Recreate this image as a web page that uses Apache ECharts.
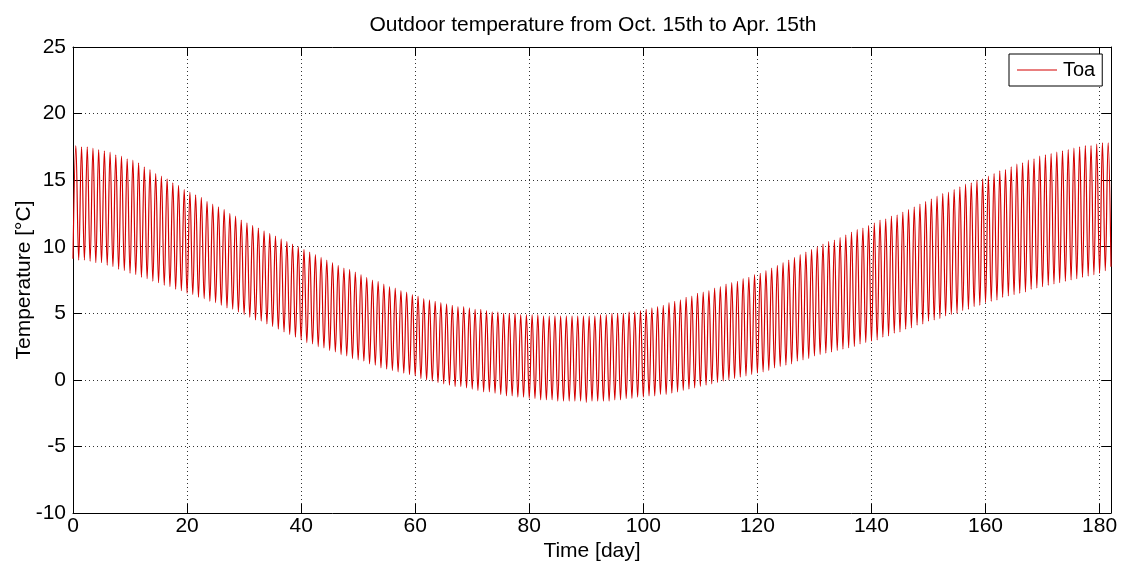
<!DOCTYPE html>
<html>
<head>
<meta charset="utf-8">
<script src="https://cdn.jsdelivr.net/npm/echarts@6/dist/echarts.min.js"></script>
<style>
html,body{margin:0;padding:0;background:#fff;}
#chart{width:1122px;height:565px;}
</style>
</head>
<body>
<div id="chart"></div>
<script>
// Daily peak temperatures (°C), day 0 .. 182
const dailyHigh = [
 17.6,17.5,17.5,17.4,17.3, 17.2,17.1,16.9,16.8,16.6,
 16.5,16.3,16.0,15.8,15.5, 15.3,15.1,14.8,14.6,14.3,
 14.1,13.9,13.7,13.4,13.2, 13.0,12.8,12.5,12.3,12.0,
 11.8,11.6,11.4,11.2,11.0, 10.8,10.6,10.4,10.2,10.0,
 9.8,9.6,9.4,9.2,9.0, 8.8,8.6,8.4,8.3,8.1,
 7.9,7.7,7.5,7.4,7.2, 7.0,6.9,6.7,6.6,6.4,
 6.3,6.1,6.0,5.9,5.8, 5.7,5.6,5.5,5.5,5.4,
 5.3,5.3,5.2,5.1,5.1, 5.0,5.0,5.0,4.9,4.9,
 4.9,4.9,4.8,4.8,4.8, 4.8,4.8,4.8,4.8,4.8,
 4.8,4.8,4.9,4.9,5.0, 5.0,5.0,5.1,5.1,5.2,
 5.3,5.4,5.5,5.6,5.8, 5.9,6.0,6.2,6.3,6.5,
 6.6,6.7,6.9,7.0,7.2, 7.3,7.4,7.6,7.7,7.9,
 8.0,8.2,8.4,8.6,8.8, 9.0,9.2,9.4,9.6,9.8,
 10.0,10.2,10.4,10.5,10.7, 10.9,11.1,11.3,11.4,11.6,
 11.8,12.0,12.1,12.3,12.4, 12.6,12.8,13.0,13.2,13.4,
 13.6,13.8,14.0,14.1,14.3, 14.5,14.7,14.8,15.0,15.1,
 15.3,15.5,15.7,15.8,16.0, 16.2,16.3,16.5,16.6,16.8,
 16.9,17.0,17.1,17.2,17.3, 17.4,17.5,17.6,17.6,17.7,
 17.8,17.8,17.9
];
// Daily minimum temperatures (°C), day 0 .. 182
const dailyLow = [
 9.1,9.0,9.0,8.9,8.8, 8.8,8.6,8.5,8.3,8.2,
 8.0,7.9,7.7,7.6,7.4, 7.3,7.1,7.0,6.8,6.7,
 6.5,6.4,6.2,6.1,5.9, 5.8,5.6,5.4,5.3,5.1,
 4.9,4.7,4.5,4.4,4.2, 4.0,3.8,3.6,3.4,3.2,
 3.0,2.8,2.7,2.5,2.4, 2.2,2.1,1.9,1.8,1.6,
 1.5,1.4,1.2,1.1,0.9, 0.8,0.7,0.6,0.5,0.4,
 0.3,0.1,0.0,-0.1,-0.2, -0.3,-0.4,-0.5,-0.5,-0.6,
 -0.7,-0.8,-0.9,-0.9,-1.0, -1.1,-1.2,-1.2,-1.3,-1.3,
 -1.4,-1.4,-1.5,-1.5,-1.5, -1.6,-1.6,-1.6,-1.6,-1.6,
 -1.7,-1.6,-1.6,-1.6,-1.6, -1.5,-1.5,-1.4,-1.4,-1.3,
 -1.3,-1.2,-1.2,-1.1,-1.1, -1.0,-0.9,-0.8,-0.7,-0.6,
 -0.5,-0.4,-0.3,-0.2,-0.1, 0.0,0.1,0.2,0.3,0.4,
 0.5,0.6,0.7,0.9,1.0, 1.1,1.2,1.4,1.5,1.6,
 1.8,1.9,2.0,2.1,2.2, 2.3,2.4,2.5,2.7,2.8,
 2.9,3.0,3.2,3.3,3.5, 3.6,3.8,3.9,4.1,4.2,
 4.4,4.5,4.6,4.8,4.9, 5.0,5.2,5.3,5.5,5.6,
 5.8,5.9,6.0,6.2,6.3, 6.4,6.5,6.6,6.8,6.9,
 7.0,7.1,7.2,7.3,7.4, 7.5,7.6,7.7,7.8,7.9,
 8.0,8.2,8.5
];
const days = dailyHigh.map((_, i) => i);
const seriesName = 'Toa';
const titleText = 'Outdoor temperature from Oct. 15th to Apr. 15th';
const xTitle = 'Time [day]';
const yTitle = 'Temperature [\u00B0C]';

// daily cycle: minimum at the start of each day, peak at mid-day
const points = [];
days.forEach(d => {
  points.push([d, dailyLow[d]]);
  if (d + 0.5 <= 182) points.push([d + 0.5, dailyHigh[d]]);
});

const FONT = '"Liberation Sans", Arial, sans-serif';
const gridLine = { show: true, lineStyle: { color: '#333', type: [1, 3], width: 1 } };
const axLine = { show: true, onZero: false, lineStyle: { color: '#000', width: 1 } };
const tick = { show: true, inside: true, length: 9, lineStyle: { color: '#000' } };

const chart = echarts.init(document.getElementById('chart'), null, { renderer: 'canvas' });
chart.setOption({
  animation: false,
  backgroundColor: '#fff',
  textStyle: { fontFamily: FONT },
  title: {
    text: titleText, left: 593, top: 15, textAlign: 'center', padding: 0,
    textStyle: { fontFamily: FONT, fontSize: 21, fontWeight: 'normal', color: '#000' }
  },
  legend: {
    data: [{ name: seriesName, icon: 'path://M0,0L40,0L40,1L0,1Z' }],
    left: 1009, top: 54,
    padding: [6, 7, 6, 8],
    itemWidth: 40, itemHeight: 1,
    borderColor: '#000', borderWidth: 1, borderRadius: 0,
    backgroundColor: '#fff',
    textStyle: { fontFamily: FONT, fontSize: 20, color: '#000', padding: [0, 0, 0, 1] }
  },
  grid: { left: 73, right: 11, top: 47, bottom: 52, containLabel: false, outerBoundsMode: 'none' },
  xAxis: [{
    type: 'value', min: 0, max: 182, interval: 20, position: 'bottom',
    name: xTitle, nameLocation: 'middle', nameGap: 28, nameMoveOverlap: false,
    nameTextStyle: { fontFamily: FONT, fontSize: 21, color: '#000' },
    axisLine: axLine, axisTick: tick, splitLine: gridLine,
    axisLabel: { fontFamily: FONT, fontSize: 21, color: '#000', margin: 3, showMaxLabel: false,
      formatter: v => (v % 20 === 0 ? String(v) : '') }
  }, {
    type: 'value', min: 0, max: 182, interval: 20, position: 'top',
    axisLine: axLine, axisTick: tick, splitLine: { show: false },
    axisLabel: { show: false }
  }],
  yAxis: [{
    type: 'value', min: -10, max: 25, interval: 5, position: 'left',
    name: yTitle, nameLocation: 'middle', nameGap: 38, nameMoveOverlap: false,
    nameTextStyle: { fontFamily: FONT, fontSize: 21, color: '#000' },
    axisLine: axLine, axisTick: tick, splitLine: gridLine,
    axisLabel: { fontFamily: FONT, fontSize: 21, color: '#000', margin: 7 }
  }, {
    type: 'value', min: -10, max: 25, interval: 5, position: 'right',
    axisLine: axLine, axisTick: tick, splitLine: { show: false },
    axisLabel: { show: false }
  }],
  series: [{
    name: seriesName, type: 'line', xAxisIndex: 0, yAxisIndex: 0,
    data: points, symbol: 'none', smooth: 0.4,
    lineStyle: { color: '#d40000', width: 1.2 },
    itemStyle: { color: '#d40000' }
  }]
});
</script>
</body>
</html>
